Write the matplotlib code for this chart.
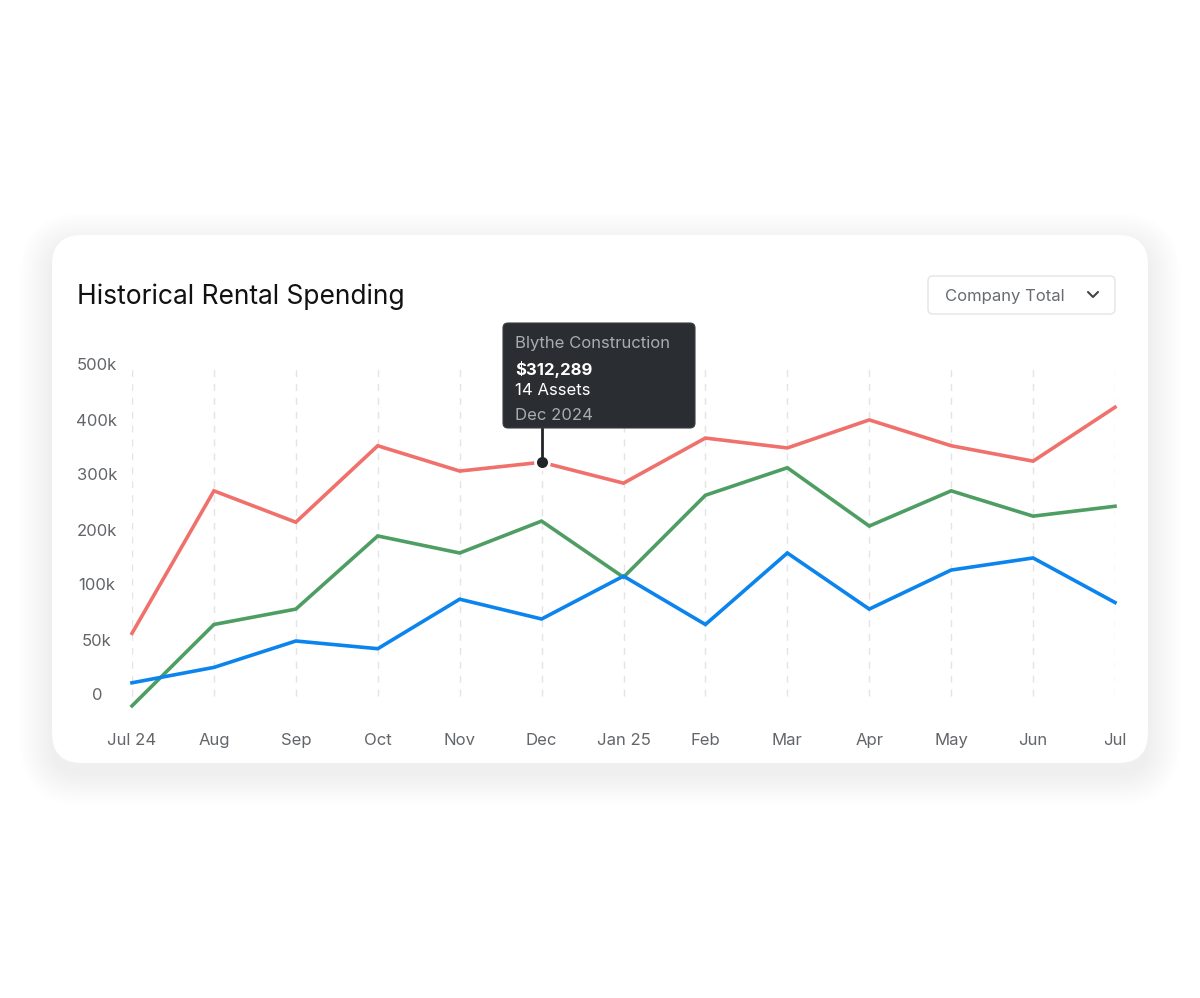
import numpy as np
import matplotlib
matplotlib.use("Agg")
import matplotlib.pyplot as plt
from matplotlib.patches import FancyBboxPatch
from matplotlib.lines import Line2D
from matplotlib.transforms import IdentityTransform, blended_transform_factory

# --- data ---
months = ["Jul 24", "Aug", "Sep", "Oct", "Nov", "Dec", "Jan 25",
          "Feb", "Mar", "Apr", "May", "Jun", "Jul"]
red_vals = [57000, 273000, 216000, 355000, 309000, 325000, 287000,
            369000, 351000, 402000, 355000, 327000, 425000]
green_vals = [-9000, 65000, 79000, 191000, 160000, 218000, 116000,
              265000, 315000, 209000, 273000, 227000, 245000]
blue_vals = [12000, 26000, 50000, 43000, 88000, 70000, 118000,
             65000, 160000, 79000, 129000, 151000, 85000]
ytick_vals = [0, 50000, 100000, 200000, 300000, 400000, 500000]
ytick_labels = ["0", "50k", "100k", "200k", "300k", "400k", "500k"]

tip_idx = 5
tip_name = "Blythe Construction"
tip_amount = "$312,289"
tip_assets = "14 Assets"
tip_date = "Dec 2024"

RED, GREEN, BLUE = "#f0716b", "#4e9e63", "#0b84ee"
W, H = 1200, 998

plt.rcParams["font.family"] = ["Inter", "DejaVu Sans"]

fig = plt.figure(figsize=(W / 100, H / 100), dpi=100)
fig.patch.set_facecolor("white")


def px(y):
    # screen y (from top) -> display y (from bottom)
    return H - y


def rbox(x0, y0, x1, y1, r, **kw):
    p = FancyBboxPatch((x0, px(y1)), x1 - x0, y1 - y0,
                       boxstyle=f"round,pad=0,rounding_size={r}",
                       transform=IdentityTransform(), **kw)
    fig.patches.append(p)
    return p


# --- card with soft shadow (alpha per layer >= 1/255 or agg drops it) ---
cx0, cy0, cx1, cy1 = 52, 235, 1148, 763
for i in range(32, 0, -2):
    rbox(cx0 - i, cy0 - i + 10, cx1 + i, cy1 + i + 10, 30 + i,
         facecolor="#000000", edgecolor="none", alpha=0.0042, zorder=-2)
rbox(cx0, cy0, cx1, cy1, 30, facecolor="white", edgecolor="none",
     zorder=-1)

# --- title and dropdown ---
fig.text(77 / W, 1 - 297 / H, "Historical Rental Spending", fontsize=19,
         color="#111111", va="center", ha="left")
rbox(928, 276, 1115, 314, 5, facecolor="white", edgecolor="#e2e4e7", lw=1)
fig.text(945 / W, 1 - 296 / H, "Company Total", fontsize=12,
         color="#676b70", va="center", ha="left")
fig.lines.append(Line2D([1088, 1093, 1098], [px(292), px(297), px(292)],
                        transform=IdentityTransform(), color="#444",
                        lw=1.5, solid_capstyle="round",
                        solid_joinstyle="round"))

# --- axes with piecewise y scale ---
units = [-1, 0, 1, 2, 3, 4, 5, 6]
vals = [-50000, 0, 50000, 100000, 200000, 300000, 400000, 500000]


def fwd(v):
    return np.interp(v, vals, units)


def inv(u):
    return np.interp(u, units, vals)


ax_top, ax_bot = 366, 366 + 6.4 * 55
ax = fig.add_axes([132 / W, 1 - ax_bot / H, (1115 - 132) / W,
                   (ax_bot - ax_top) / H])
ax.set_yscale("function", functions=(fwd, inv))
ax.set_xlim(0, len(months) - 1)
ax.set_ylim(inv(-0.4), 500000)
ax.patch.set_alpha(0)
for s in ax.spines.values():
    s.set_visible(False)

x = np.arange(len(months))
ax.vlines(x, 0, 500000, colors="#e3e4e6", linestyles=(0, (5, 5)),
          lw=1, zorder=1)

for vals_, c in [(red_vals, RED), (green_vals, GREEN), (blue_vals, BLUE)]:
    ax.plot(x, vals_, color=c, lw=2.6, clip_on=False, zorder=3,
            solid_joinstyle="miter")

ax.set_yticks([])
ax.set_xticks(x)
ax.set_xticklabels(months, fontsize=12, color="#626569")
ax.tick_params(axis="x", length=0, pad=11)

ytr = blended_transform_factory(fig.transFigure, ax.transData)
for v, lab in zip(ytick_vals, ytick_labels):
    ax.text(97 / W, v, lab, transform=ytr, ha="center", va="center",
            fontsize=12, color="#626569")

# --- tooltip ---
ax.plot([x[tip_idx]], [red_vals[tip_idx]], marker="o", ms=10,
        color="#222427", mec="white", mew=2, zorder=6, clip_on=False)
fig.canvas.draw()
dx, dy = ax.transData.transform((x[tip_idx], red_vals[tip_idx]))
fig.lines.append(Line2D([dx, dx], [dy, px(428)],
                        transform=IdentityTransform(), color="#222427",
                        lw=2, zorder=5))
rbox(503, 323, 695, 428, 5, facecolor="#2a2d31", edgecolor="#3a3d42",
     lw=0.8, zorder=7)
fig.text(515 / W, 1 - 343 / H, tip_name, fontsize=12, color="#a9adb3",
         va="center", zorder=8)
fig.text(515 / W, 1 - 369 / H, tip_amount, fontsize=12, color="white",
         fontweight="bold", va="center", zorder=8)
fig.text(515 / W, 1 - 390 / H, tip_assets, fontsize=12, color="white",
         va="center", zorder=8)
fig.text(515 / W, 1 - 415 / H, tip_date, fontsize=12, color="#a9adb3",
         va="center", zorder=8)

fig.savefig("out.png", dpi=100)
